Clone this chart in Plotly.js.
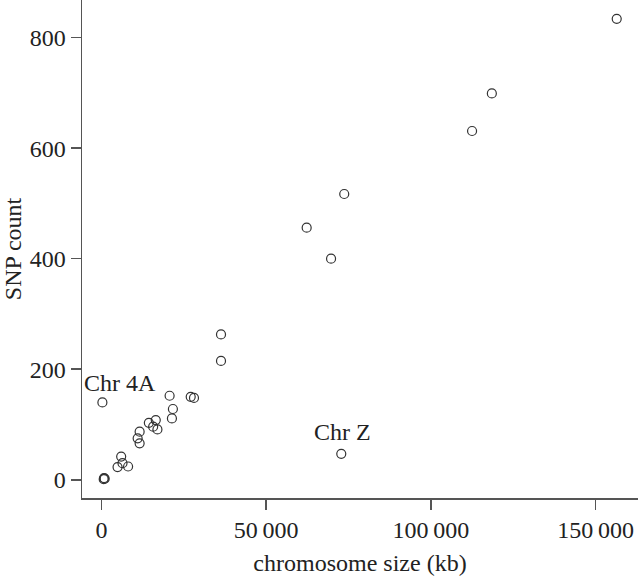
<!DOCTYPE html>
<html>
<head>
<meta charset="utf-8">
<script src="https://cdn.plot.ly/plotly-3.0.1.min.js"></script>
<style>
  html, body { margin: 0; padding: 0; background: #fff; }
  #plot { width: 638px; height: 577px; }
</style>
</head>
<body>
<div id="plot"></div>
<script>
// chromosome size (kb) vs SNP count
var chromSize = [156400, 118500, 112500, 73700, 62300, 69700, 36300, 36300,
                 27100, 28100, 72800, 300, 20700, 21700, 21400, 16500, 14400,
                 15700, 17000, 11600, 11000, 11600, 6000, 4900, 6400, 8100,
                 800, 1000, 700];
var snpCount = [834, 699, 631, 517, 456, 400, 263, 215,
                150, 148, 47, 140, 152, 128, 111, 108, 103,
                96, 91, 87, 75, 66, 42, 23, 30, 24,
                3, 2, 1];

var labelText = ['Chr 4A', 'Chr Z'];
var labelX = [5600, 73300];
var labelY = [175, 87];

var xTickVals = [0, 50000, 100000, 150000];
var xTickText = ['0', '50\u2009000', '100\u2009000', '150\u2009000'];
var yTickVals = [0, 200, 400, 600, 800];

var serif = '"Liberation Serif"';
var axisColor = '#555';

var trace = {
    x: chromSize,
    y: snpCount,
    mode: 'markers',
    type: 'scatter',
    marker: {
        symbol: 'circle-open',
        size: 9,
        color: '#333',
        line: {width: 1.2, color: '#333'}
    },
    hoverinfo: 'x+y'
};

var annotations = labelText.map(function (t, i) {
    return {
        x: labelX[i], y: labelY[i], xref: 'x', yref: 'y',
        text: t, showarrow: false,
        font: {family: serif, size: 24, color: '#222'}
    };
});

var layout = {
    width: 638,
    height: 577,
    paper_bgcolor: '#fff',
    plot_bgcolor: '#fff',
    showlegend: false,
    margin: {l: 82, r: 0, t: 0, b: 79},
    font: {family: serif, size: 24, color: '#222'},
    xaxis: {
        range: [-5890, 162860],
        tickvals: xTickVals,
        ticktext: xTickText,
        showgrid: false,
        zeroline: false,
        showline: true,
        linecolor: axisColor,
        linewidth: 1.5,
        ticks: 'outside',
        ticklen: 10,
        tickwidth: 1.5,
        tickcolor: axisColor,
        tickfont: {family: serif, size: 24, color: '#222'},
        title: {text: 'chromosome size (kb)', standoff: 12, font: {family: serif, size: 24, color: '#222'}},
        automargin: false
    },
    yaxis: {
        range: [-33, 868],
        tickvals: yTickVals,
        showgrid: false,
        zeroline: false,
        showline: true,
        linecolor: axisColor,
        linewidth: 1.5,
        ticks: 'outside',
        ticklen: 10,
        tickwidth: 1.5,
        tickcolor: axisColor,
        tickfont: {family: serif, size: 24, color: '#222'},
        title: {text: 'SNP count', standoff: 8, font: {family: serif, size: 24, color: '#222'}},
        automargin: false
    },
    annotations: annotations
};

Plotly.newPlot('plot', [trace], layout, {displayModeBar: false, staticPlot: true});
</script>
</body>
</html>
